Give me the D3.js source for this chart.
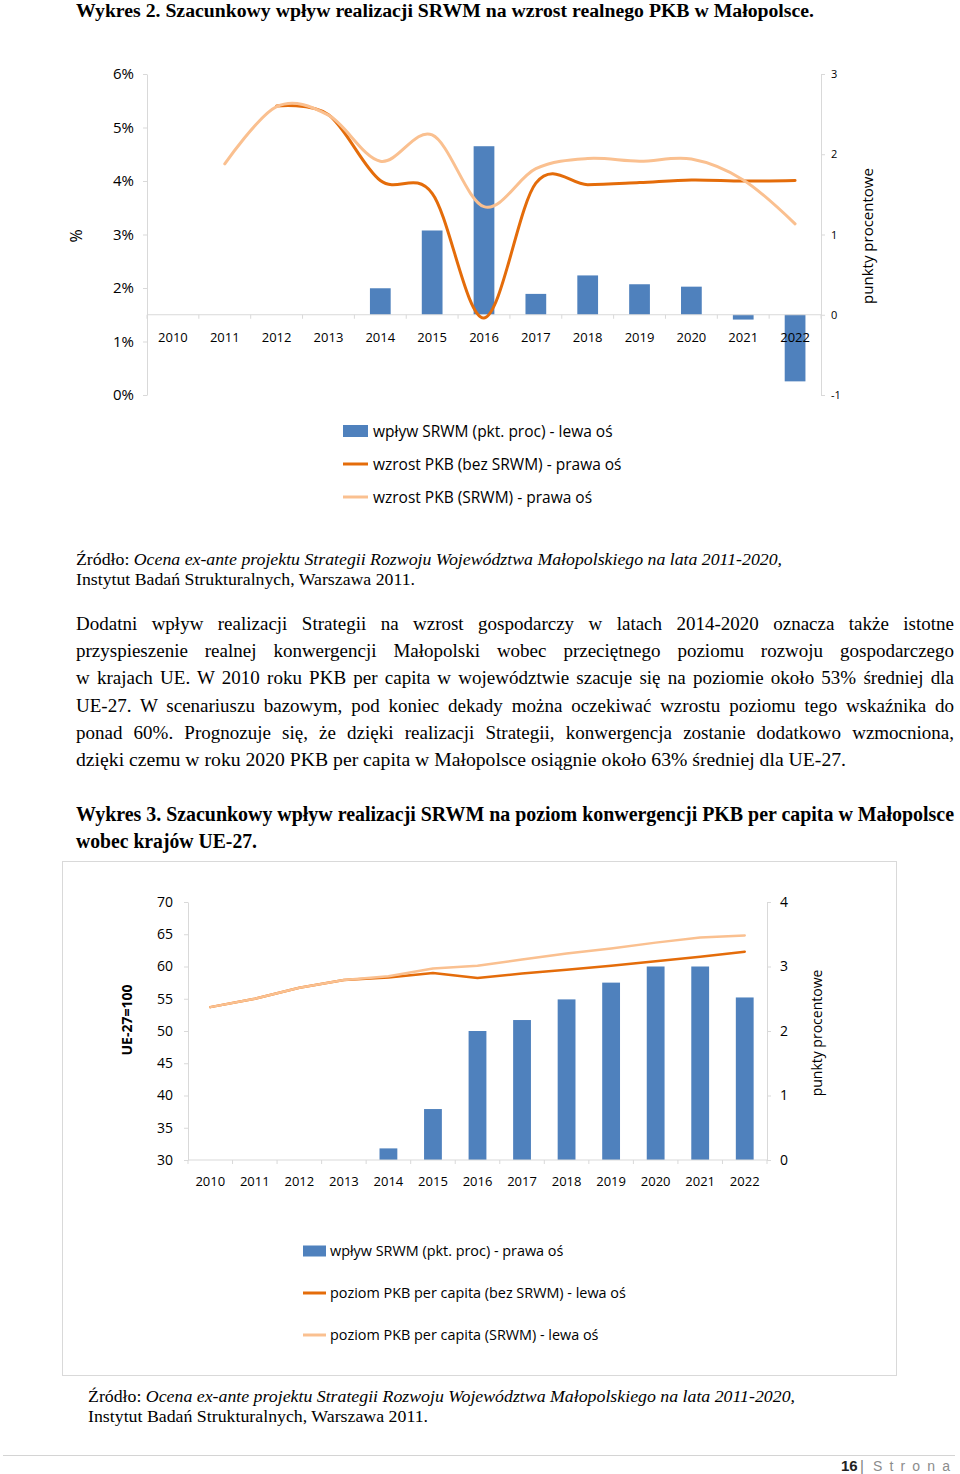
<!DOCTYPE html>
<html><head><meta charset="utf-8">
<script src="https://cdn.jsdelivr.net/npm/d3@7"></script>
<style>
html,body{margin:0;padding:0;background:#fff;}
svg{display:block;}
</style></head>
<body>
<svg id="page" width="960" height="1474"></svg>
<script>
// ---------- DATA ----------
const years = ["2010","2011","2012","2013","2014","2015","2016","2017","2018","2019","2020","2021","2022"];

// Chart 1 (Wykres 2)
const c1Bars = [null,null,null,null,0.33,1.05,2.10,0.26,0.49,0.38,0.35,-0.06,-0.83];   // pkt. proc
const c1NoSRWM = [null,null,5.40,5.24,4.01,3.77,1.44,3.96,3.93,3.97,4.02,4.00,4.01];     // % growth
const c1SRWM   = [null,4.32,5.39,5.23,4.37,4.86,3.52,4.23,4.42,4.37,4.41,4.02,3.20];     // % growth
const c1LeftTicks = [0,1,2,3,4,5,6];
const c1RightTicks = [-1,0,1,2,3];
const c1Legend = ["wpływ SRWM (pkt. proc) - lewa oś","wzrost PKB (bez SRWM) - prawa oś","wzrost PKB (SRWM) - prawa oś"];

// Chart 2 (Wykres 3)
const c2Bars = [null,null,null,null,0.18,0.79,2.00,2.17,2.49,2.75,3.00,3.00,2.52];
const c2NoSRWM = [53.7,55.0,56.7,57.9,58.3,59.0,58.2,58.9,59.5,60.1,60.8,61.5,62.3];
const c2SRWM   = [53.7,55.0,56.7,57.9,58.5,59.7,60.1,61.1,62.0,62.8,63.7,64.5,64.8];
const c2LeftTicks = [30,35,40,45,50,55,60,65,70];
const c2RightTicks = [0,1,2,3,4];
const c2Legend = ["wpływ SRWM (pkt. proc) - prawa oś","poziom PKB per capita (bez SRWM) - lewa oś","poziom PKB per capita (SRWM) - lewa oś"];

// ---------- TEXTS ----------
const title1 = "Wykres 2. Szacunkowy wpływ realizacji SRWM na wzrost realnego PKB w Małopolsce.";
const srcLead = "Źródło: ";
const srcItalic = "Ocena ex-ante projektu Strategii Rozwoju Województwa Małopolskiego na lata 2011-2020,";
const srcLine2 = "Instytut Badań Strukturalnych, Warszawa 2011.";
const bodyLines = [
 "Dodatni wpływ realizacji Strategii na wzrost gospodarczy w latach 2014-2020 oznacza także istotne",
 "przyspieszenie realnej konwergencji Małopolski wobec przeciętnego poziomu rozwoju gospodarczego",
 "w krajach UE. W 2010 roku PKB per capita w województwie szacuje się na poziomie około 53% średniej dla",
 "UE-27. W scenariuszu bazowym, pod koniec dekady można oczekiwać wzrostu poziomu tego wskaźnika do",
 "ponad 60%. Prognozuje się, że dzięki realizacji Strategii, konwergencja zostanie dodatkowo wzmocniona,",
 "dzięki czemu w roku 2020 PKB per capita w Małopolsce osiągnie około 63% średniej dla UE-27."
];
const title3 = ["Wykres 3. Szacunkowy wpływ realizacji SRWM na poziom konwergencji PKB per capita w Małopolsce","wobec krajów UE-27."];

// ---------- STYLE ----------
const BLUE = "#4F81BD", DARK = "#E46C0A", LIGHT = "#FAC090", AXIS = "#d9d9d9";
const SERIF = "'Liberation Serif','Times New Roman',serif";
const SANS = "'Open Sans','DejaVu Sans',sans-serif";

const svg = d3.select("#page");
svg.append("rect").attr("width",960).attr("height",1474).attr("fill","#fff");

function fitText(sel, width, justify){
  const node = sel.node();
  const nat = node.getComputedTextLength();
  const str = node.textContent;
  const spaces = (str.match(/ /g)||[]).length;
  if (justify && nat < width && spaces){
    sel.attr("word-spacing", (width-nat)/spaces);
  } else {
    sel.attr("textLength", width).attr("lengthAdjust","spacingAndGlyphs");
  }
}

// ---------- HEADINGS / TEXT ----------
const t1 = svg.append("text").attr("x",76).attr("y",17).attr("font-family",SERIF)
  .attr("font-weight","bold").attr("font-size",18).text(title1);
fitText(t1, 738, false);

function source(x, y, w1, w2){
  const s = svg.append("text").attr("x",x).attr("y",y).attr("font-family",SERIF).attr("font-size",16);
  s.append("tspan").text(srcLead);
  s.append("tspan").attr("font-style","italic").text(srcItalic);
  fitText(s, w1, false);
  const s2 = svg.append("text").attr("x",x).attr("y",y+20).attr("font-family",SERIF).attr("font-size",16).text(srcLine2);
  fitText(s2, w2, false);
}
source(76, 565, 706, 339);

bodyLines.forEach((l,i)=>{
  const t = svg.append("text").attr("x",76).attr("y",630+i*27.2).attr("font-family",SERIF)
    .attr("font-size",19).text(l);
  fitText(t, i<bodyLines.length-1 ? 878 : 770, i<bodyLines.length-1);
});

const t3a = svg.append("text").attr("x",76).attr("y",821).attr("font-family",SERIF)
  .attr("font-weight","bold").attr("font-size",20).text(title3[0]);
fitText(t3a, 878, true);
const t3b = svg.append("text").attr("x",76).attr("y",848).attr("font-family",SERIF)
  .attr("font-weight","bold").attr("font-size",20).text(title3[1]);
fitText(t3b, 181, false);

// ---------- generic combo chart ----------
function combo(cfg){
  const g = svg.append("g");
  const xSlot = d3.scaleBand().domain(years).range([cfg.x0,cfg.x1]).padding(0);
  const xBar = d3.scaleBand().domain(years).range([cfg.x0,cfg.x1]).paddingInner(0.6).paddingOuter(0.3);
  const yL = d3.scaleLinear().domain(cfg.lDomain).range([cfg.yBottom,cfg.yTop]);
  const yR = d3.scaleLinear().domain(cfg.rDomain).range([cfg.yBottom,cfg.yTop]);
  const yBarScale = yR;   // bars read on right axis
  const yLineScale = yL;  // lines read on left axis

  const la = g.append("g").attr("transform",`translate(${cfg.x0},0)`)
    .call(d3.axisLeft(yL).tickValues(cfg.lTicks).tickFormat(cfg.lFormat).tickSize(4).tickPadding(cfg.lPad).tickSizeOuter(0));
  const ra = g.append("g").attr("transform",`translate(${cfg.x1},0)`)
    .call(d3.axisRight(yR).tickValues(cfg.rTicks).tickFormat(d=>String(d)).tickSize(4).tickPadding(cfg.rPad).tickSizeOuter(0));
  [la,ra].forEach(a=>{
    a.select(".domain").attr("stroke",AXIS);
    a.selectAll(".tick line").attr("stroke",AXIS);
    a.selectAll("text").attr("font-family",SANS).attr("fill","#000");
  });
  la.selectAll("text").attr("font-size",cfg.lFont);
  ra.selectAll("text").attr("font-size",cfg.rFont);

  // bars
  const bd = years.map((y,i)=>({y, v:cfg.bars[i]})).filter(d=>d.v!==null);
  g.selectAll(".bar").data(bd).join("rect")
    .attr("x",d=>xBar(d.y)).attr("width",xBar.bandwidth())
    .attr("y",d=>Math.min(yBarScale(d.v),yBarScale(0)))
    .attr("height",d=>Math.abs(yBarScale(d.v)-yBarScale(0))).attr("fill",BLUE);

  // category axis
  const yC = yBarScale(0);
  g.append("line").attr("x1",cfg.x0).attr("x2",cfg.x1).attr("y1",yC).attr("y2",yC).attr("stroke",AXIS);
  const bounds = years.map(y=>xSlot(y)).concat([cfg.x1]);
  g.selectAll(".ctick").data(bounds).join("line").attr("x1",d=>d).attr("x2",d=>d)
    .attr("y1",yC).attr("y2",yC+4).attr("stroke",AXIS);
  g.selectAll(".clab").data(years).join("text").attr("x",d=>xSlot(d)+xSlot.bandwidth()/2)
    .attr("y",cfg.yearY).attr("text-anchor","middle").attr("font-family",SANS).attr("font-size",cfg.yearFont)
    .attr("fill","#000").text(d=>d);

  // lines
  const line = d3.line().defined(d=>d.v!==null)
    .x(d=>xSlot(d.y)+xSlot.bandwidth()/2).y(d=>yLineScale(d.v)).curve(cfg.curve);
  [[cfg.dark,DARK],[cfg.light,LIGHT]].forEach(([arr,col])=>{
    const data = years.map((y,i)=>({y,v:arr[i]}));
    const first = data.findIndex(d=>d.v!==null);
    g.append("path").datum(data.slice(first)).attr("d",line).attr("fill","none")
      .attr("stroke",col).attr("stroke-width",cfg.lw).attr("stroke-linecap","round").attr("stroke-linejoin","round");
  });

  // axis titles
  g.append("text").attr("transform",`translate(${cfg.lTitle.x},${cfg.lTitle.y}) rotate(-90)`)
    .attr("text-anchor","middle").attr("dominant-baseline","central").attr("font-family",SANS)
    .attr("font-size",cfg.lTitle.size).attr("font-weight",cfg.lTitle.weight||"normal").text(cfg.lTitle.text);
  g.append("text").attr("transform",`translate(${cfg.rTitle.x},${cfg.rTitle.y}) rotate(-90)`)
    .attr("text-anchor","middle").attr("dominant-baseline","central").attr("font-family",SANS)
    .attr("font-size",cfg.rTitle.size).text(cfg.rTitle.text);

  // legend
  const L = cfg.legend;
  cfg.legendLabels.forEach((lab,i)=>{
    const cy = L.y + i*L.dy;
    if(i===0){
      g.append("rect").attr("x",L.x).attr("y",cy-L.rh/2).attr("width",L.w).attr("height",L.rh).attr("fill",BLUE);
    } else {
      g.append("line").attr("x1",L.x).attr("x2",L.x+L.w).attr("y1",cy).attr("y2",cy)
        .attr("stroke", i===1?DARK:LIGHT).attr("stroke-width",3);
    }
    g.append("text").attr("x",L.tx).attr("y",cy).attr("dy","0.36em").attr("font-family",SANS)
      .attr("font-size",L.font).attr("fill","#000").text(lab);
  });
}

// Chart 1
combo({
  x0:147, x1:821, yTop:74, yBottom:395,
  lDomain:[0,6], rDomain:[-1,3],
  lTicks:c1LeftTicks, lFormat:d=>d+"%", lPad:9, lFont:15,
  rTicks:c1RightTicks, rPad:6, rFont:11,
  yearY:342, yearFont:13,
  bars:c1Bars, dark:c1NoSRWM, light:c1SRWM,
  curve:d3.curveCatmullRom.alpha(0), lw:3,
  lTitle:{x:76,y:236,text:"%",size:16},
  rTitle:{x:867,y:236,text:"punkty procentowe",size:15},
  legend:{x:343,w:25,rh:12,tx:373,y:431,dy:33,font:15.5},
  legendLabels:c1Legend
});

// Chart 2 border
svg.append("rect").attr("x",62.5).attr("y",861.5).attr("width",834).attr("height",514)
  .attr("fill","none").attr("stroke","#d9d9d9");

combo({
  x0:188, x1:767, yTop:902, yBottom:1160,
  lDomain:[30,70], rDomain:[0,4],
  lTicks:c2LeftTicks, lFormat:d3.format("d"), lPad:11, lFont:14,
  rTicks:c2RightTicks, rPad:9, rFont:14,
  yearY:1186, yearFont:13,
  bars:c2Bars, dark:c2NoSRWM, light:c2SRWM,
  curve:d3.curveLinear, lw:2.5,
  lTitle:{x:126,y:1020,text:"UE-27=100",size:14,weight:"bold"},
  rTitle:{x:816,y:1033,text:"punkty procentowe",size:14},
  legend:{x:303,w:23,rh:11,tx:330,y:1251,dy:42,font:14.4},
  legendLabels:c2Legend
});

source(88, 1402, 707, 340);

// footer
svg.append("line").attr("x1",3).attr("x2",955).attr("y1",1455.5).attr("y2",1455.5).attr("stroke","#d4d4d4");
svg.append("text").attr("x",841).attr("y",1471).attr("font-family","'Liberation Sans',sans-serif")
  .attr("font-weight","bold").attr("font-size",15).attr("fill","#222").text("16");
svg.append("text").attr("x",860).attr("y",1471).attr("font-family","'Liberation Sans',sans-serif")
  .attr("font-size",15).attr("fill","#7f7f7f").text("|");
const st = svg.append("text").attr("x",873).attr("y",1471).attr("font-family","'Liberation Sans',sans-serif")
  .attr("font-size",14).attr("fill","#8c8c8c").text("Strona");
st.attr("textLength",77).attr("lengthAdjust","spacing");
</script>
</body></html>
